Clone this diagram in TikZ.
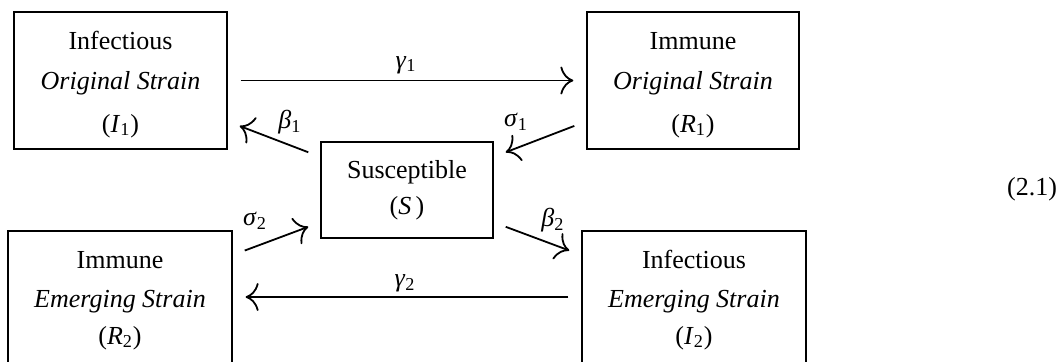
\documentclass[tikz,border=0pt]{standalone}
\usepackage{fontspec}
\setmainfont{Liberation Serif}
\usetikzlibrary{arrows.meta}
\newcommand{\vsub}[2]{\textit{#1}\textsubscript{#2}}
\begin{document}
\begin{tikzpicture}[x=0.5bp, y=-0.5bp,
  every node/.style={font=\fontsize{13bp}{16bp}\selectfont, inner sep=0pt, outer sep=0pt},
  box/.style={draw, line width=0.6bp},
  topbox/.style={box, minimum width=106.5bp, minimum height=68.5bp},
  botbox/.style={box, minimum width=112bp, minimum height=66bp},
  arr/.style={-{To[length=6.5bp,width=14bp]}, line width=0.9bp, shorten <=6.8bp, shorten >=6.8bp},
  txt/.style={anchor=base}]
\useasboundingbox (0,0) rectangle (1058,361);
% boxes
\node[topbox] (I1) at (120.5,80.5) {};
\node[topbox, minimum width=106bp] (R1) at (693,80.5) {};
\node[box, minimum width=86bp, minimum height=48bp] (S) at (407,190) {};
\node[botbox] (R2) at (120,297) {};
\node[botbox] (I2) at (694,297) {};
% texts
\node[txt] (I1a) at (120.5,49) {Infectious};
\node[txt] (I1b) at (120.5,89) {\textit{Original Strain}};
\node[txt] (I1c) at (120.5,132) {(\vsub{I}{1})};
\node[txt] (R1a) at (693,49) {Immune};
\node[txt] (R1b) at (693,89) {\textit{Original Strain}};
\node[txt] (R1c) at (693,132) {(\vsub{R}{1})};
\node[txt] (Sa) at (407,178) {Susceptible};
\node[txt] (Sb) at (407,214) {(\textit{S}\,)};
\node[txt] (R2a) at (120,268) {Immune};
\node[txt] (R2b) at (120,307) {\textit{Emerging Strain}};
\node[txt] (R2c) at (120,344) {(\vsub{R}{2})};
\node[txt] (I2a) at (694,268) {Infectious};
\node[txt] (I2b) at (694,307) {\textit{Emerging Strain}};
\node[txt] (I2c) at (694,344) {(\vsub{I}{2})};
% arrows
\draw[arr] (I1) -- (R1);
\draw[arr] (S) -- (I1);
\draw[arr] (R1) -- (S);
\draw[arr] (R2) -- (S);
\draw[arr] (S) -- (I2);
\draw[arr] (I2) -- (R2);
% labels
\node (g1) at (406,65) {\vsub{γ}{1}};
\node (b1) at (290,122) {\vsub{β}{1}};
\node (s1) at (516,122) {\vsub{σ}{1}};
\node (s2) at (255,221) {\vsub{σ}{2}};
\node (b2) at (553,220) {\vsub{β}{2}};
\node (g2) at (405,283) {\vsub{γ}{2}};
% equation number
\node[anchor=east] (eq) at (1057,189) {(2.1)};
\end{tikzpicture}
\end{document}
